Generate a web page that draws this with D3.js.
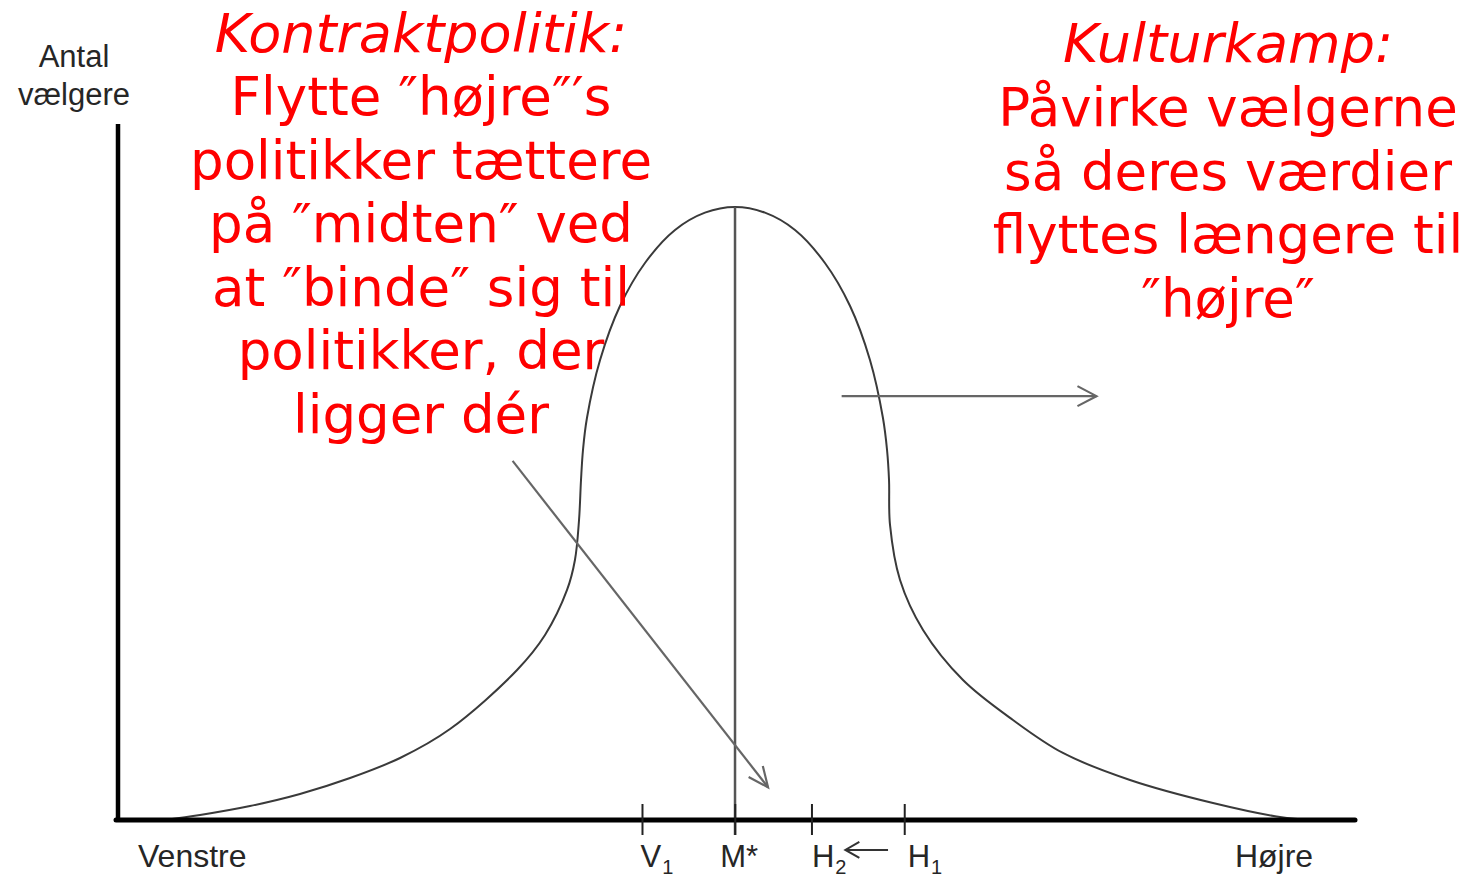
<!DOCTYPE html>
<html>
<head>
<meta charset="utf-8">
<script src="https://cdn.jsdelivr.net/npm/d3@7"></script>
<style>
  html, body { margin: 0; padding: 0; background: #fff; }
  svg { display: block; }
</style>
</head>
<body>
<script>
// ---- data (political position 0–100, share of voters 0–100) ----
const positions = [3.80, 6.63, 10.67, 14.71, 18.76, 22.80, 26.84, 32.26, 34.52, 36.30, 36.94, 37.27, 37.43, 37.59, 37.91, 38.97, 40.58, 42.60, 45.03, 47.45, 49.88, 52.30, 54.73, 57.15, 59.18, 60.79, 61.84, 62.17, 62.33, 62.41, 63.22, 65.08, 68.31, 72.35, 76.39, 81.81, 88.52, 93.94, 96.60];
const voters    = [0, 0.72, 2.01, 3.74, 6.03, 8.91, 13.07, 21.55, 26.58, 33.05, 37.36, 43.10, 48.85, 53.16, 57.76, 66.09, 73.85, 80.03, 84.77, 87.26, 88.07, 87.26, 84.77, 80.03, 73.85, 66.09, 57.76, 53.16, 48.85, 42.39, 34.48, 27.30, 20.11, 14.37, 9.63, 5.75, 2.44, 0.43, 0];

const tickNames     = ["V", "M*", "H", "H"];
const tickSubs      = ["1", "", "2", "1"];
const tickPositions = [42.4, 49.9, 56.1, 63.6];
const medianPosition = 49.88;
const medianPeak = 88.07;

const endLabels = ["Venstre", "Højre"];
const axisTitle = ["Antal", "vælgere"];

// arrows: [x1, y1, x2, y2] in data units
const arrowContract = [31.9, 51.6, 52.55, 4.7];
const arrowCulture  = [58.5, 60.9, 79.1, 60.9];
const arrowShift    = [62.25, -4.3, 58.8, -4.3];

const leftTitle  = "Kontraktpolitik:";
const leftLines  = ["Flytte ″højre″′s", "politikker tættere", "på ″midten″ ved", "at ″binde″ sig til", "politikker, der", "ligger dér"];
const rightTitle = "Kulturkamp:";
const rightLines = ["Påvirke vælgerne", "så deres værdier", "flyttes længere til", "″højre″"];

// ---- layout ----
const W = 1470, H = 878;
const svg = d3.select("body").append("svg").attr("width", W).attr("height", H);

const x = d3.scaleLinear().domain([0, 100]).range([118, 1355]);
const y = d3.scaleLinear().domain([0, 100]).range([820, 124]);

const grey = "#666";

// curve
const pts = positions.map((p, i) => [p, voters[i]]);
const line = d3.line().x(d => x(d[0])).y(d => y(d[1])).curve(d3.curveCatmullRom.alpha(0.5));
svg.append("path").attr("d", line(pts)).attr("fill", "none")
  .attr("stroke", "#3a3a3a").attr("stroke-width", 2);

// median line
svg.append("line")
  .attr("x1", x(medianPosition)).attr("x2", x(medianPosition))
  .attr("y1", y(medianPeak)).attr("y2", y(0) + 15)
  .attr("stroke", "#555").attr("stroke-width", 2.5);

// axes
svg.append("line").attr("x1", x(0)).attr("x2", x(0)).attr("y1", y(100)).attr("y2", y(0) + 2)
  .attr("stroke", "#000").attr("stroke-width", 4.5);
svg.append("line").attr("x1", x(0) - 2).attr("x2", x(100)).attr("y1", y(0)).attr("y2", y(0))
  .attr("stroke", "#000").attr("stroke-width", 5).attr("stroke-linecap", "round");

// ticks
svg.selectAll("line.tick").data(tickPositions).join("line").attr("class", "tick")
  .attr("x1", d => x(d)).attr("x2", d => x(d))
  .attr("y1", y(0) - 16).attr("y2", y(0) + 15)
  .attr("stroke", "#222").attr("stroke-width", 2);

const labelFont = "'Liberation Sans', Arial, sans-serif";
const labelColor = "#262626";
const tickDx = [-2, -15, 0, 3];
tickNames.forEach((n, i) => {
  const t = svg.append("text")
    .attr("x", x(tickPositions[i]) + tickDx[i]).attr("y", 867)
    .attr("font-family", labelFont).attr("font-size", 31).attr("fill", labelColor);
  t.append("tspan").text(n);
  if (tickSubs[i]) t.append("tspan").attr("font-size", 20).attr("dy", 7).attr("dx", 1).text(tickSubs[i]);
});

svg.append("text").attr("x", 138).attr("y", 867).attr("font-family", labelFont)
  .attr("font-size", 32).attr("fill", labelColor).text(endLabels[0]);
svg.append("text").attr("x", 1274).attr("y", 867).attr("text-anchor", "middle").attr("font-family", labelFont)
  .attr("font-size", 32).attr("fill", labelColor).text(endLabels[1]);

svg.append("text").attr("x", 74).attr("y", 67).attr("text-anchor", "middle").attr("font-family", labelFont)
  .attr("font-size", 31).attr("fill", labelColor).text(axisTitle[0]);
svg.append("text").attr("x", 74).attr("y", 105).attr("text-anchor", "middle").attr("font-family", labelFont)
  .attr("font-size", 31).attr("fill", labelColor).text(axisTitle[1]);

// arrows
function arrow(a, color, width, headLen, headHalf) {
  const x1 = x(a[0]), y1 = y(a[1]), x2 = x(a[2]), y2 = y(a[3]);
  const ang = Math.atan2(y2 - y1, x2 - x1);
  const bx = x2 - headLen * Math.cos(ang), by = y2 - headLen * Math.sin(ang);
  const px = -Math.sin(ang) * headHalf, py = Math.cos(ang) * headHalf;
  svg.append("line").attr("x1", x1).attr("y1", y1).attr("x2", x2).attr("y2", y2)
    .attr("stroke", color).attr("stroke-width", width);
  svg.append("path").attr("d", `M${bx + px},${by + py}L${x2},${y2}L${bx - px},${by - py}`)
    .attr("fill", "none").attr("stroke", color).attr("stroke-width", width);
}
arrow(arrowContract, grey, 2.2, 20, 9);
arrow(arrowCulture, grey, 2.2, 19, 10);
arrow(arrowShift, "#333", 2, 14, 8);

// red annotations
const redFont = "'DejaVu Sans', Verdana, sans-serif";
function block(cx, title, lines, y0, titleY) {
  svg.append("text").attr("x", cx).attr("y", titleY).attr("text-anchor", "middle")
    .attr("font-family", redFont).attr("font-style", "italic").attr("font-size", 54)
    .attr("fill", "#ff0000").text(title);
  lines.forEach((l, i) => {
    svg.append("text").attr("x", cx).attr("y", y0 + i * 63.5).attr("text-anchor", "middle")
      .attr("font-family", redFont).attr("font-size", 53).attr("fill", "#ff0000").text(l);
  });
}
block(421, leftTitle, leftLines, 115, 52);
block(1228, rightTitle, rightLines, 126, 62);
</script>
</body>
</html>
